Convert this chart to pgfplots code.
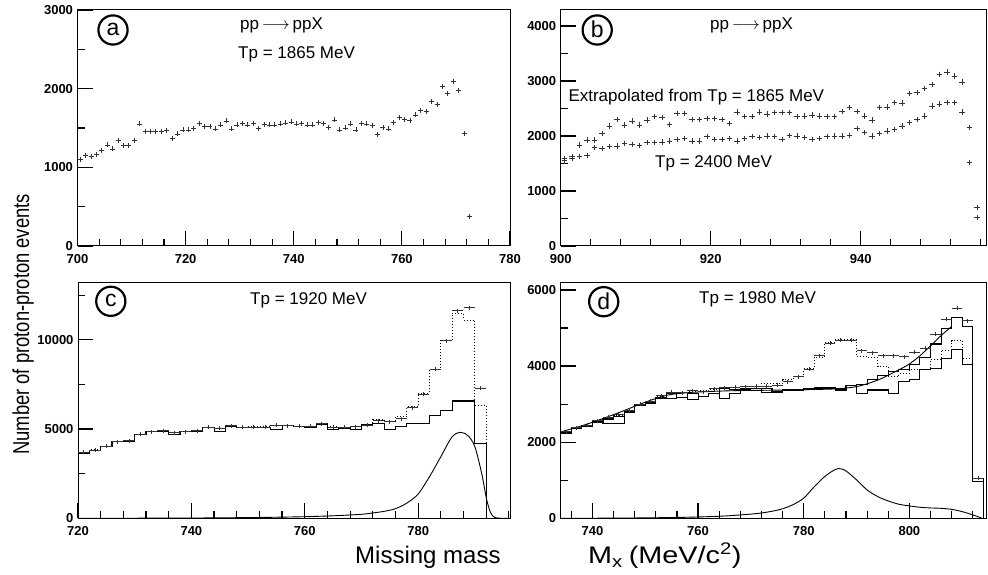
\documentclass[border=0pt]{standalone}
\usepackage{fontspec}
\setmainfont{Liberation Sans}
\usepackage{graphicx}
\usepackage{pgfplots}
\pgfplotsset{compat=1.18}
\usepackage{pgfplotstable}

% panel a: pp -> ppX, Tp = 1865 MeV
\pgfplotstableread{
x y
700.5 1105
701.5 1156
702.5 1139
703.5 1160
704.5 1220
705.5 1284
706.5 1233
707.5 1339
708.5 1275
709.5 1275
710.5 1339
711.5 1551
712.5 1454
713.5 1454
714.5 1454
715.5 1454
716.5 1466
717.5 1364
718.5 1424
719.5 1475
720.5 1475
721.5 1496
722.5 1560
723.5 1517
724.5 1517
725.5 1488
726.5 1539
727.5 1590
728.5 1488
729.5 1539
730.5 1560
731.5 1539
732.5 1560
733.5 1496
734.5 1547
735.5 1539
736.5 1539
737.5 1551
738.5 1564
739.5 1577
740.5 1551
741.5 1560
742.5 1539
743.5 1539
744.5 1568
745.5 1560
746.5 1505
747.5 1602
748.5 1475
749.5 1500
750.5 1551
751.5 1475
752.5 1560
753.5 1551
754.5 1530
755.5 1420
756.5 1505
757.5 1488
758.5 1568
759.5 1636
760.5 1611
761.5 1594
762.5 1666
763.5 1721
764.5 1709
765.5 1836
766.5 1802
767.5 2027
768.5 1934
769.5 2087
770.5 1976
771.5 1432
772.5 378
}\dataA

% panel b: extrapolated from 1865 MeV (upper) and Tp = 2400 MeV (lower)
\pgfplotstableread{
x up low
900.5 1588 1550
901.5 1624 1600
902.5 1836 1630
903.5 1927 1645
904.5 1927 1788
905.5 2048 1770
906.5 2182 1806
907.5 2303 1818
908.5 2194 1866
909.5 2273 1848
910.5 2200 1830
911.5 2285 1879
912.5 2351 1879
913.5 2333 1891
914.5 2212 1909
915.5 2406 1939
916.5 2406 1957
917.5 2303 1909
918.5 2303 1909
919.5 2315 1988
920.5 2315 1939
921.5 2303 1939
922.5 2224 1957
923.5 2436 1909
924.5 2351 1957
925.5 2351 1988
926.5 2436 1970
927.5 2394 2000
928.5 2424 1988
929.5 2424 1939
930.5 2424 2012
931.5 2351 2000
932.5 2363 1970
933.5 2376 1939
934.5 2363 1957
935.5 2351 1988
936.5 2351 2000
937.5 2442 2000
938.5 2515 2012
939.5 2442 2133
940.5 2363 2060
941.5 2285 2000
942.5 2515 2048
943.5 2527 2091
944.5 2606 2121
945.5 2594 2182
946.5 2775 2242
947.5 2788 2303
948.5 2860 2363
949.5 2933 2545
950.5 3121 2576
951.5 3163 2606
952.5 3091 2606
953.5 2982 2436
954.5 2151 1515
955.5 697 515
}\dataB

% panel c: Tp = 1920 MeV, data points (bin centres)
\pgfplotstableread{
x y
721 3700
723 3830
725 4050
727 4300
729 4350
731 4720
733 4850
735 4900
737 4800
739 4860
741 4900
743 5100
745 5050
747 5180
749 5100
751 5120
753 5120
755 5220
757 5180
759 5160
761 5170
763 5300
765 5120
767 5100
769 5130
771 5200
773 5470
775 5410
777 5580
779 6195
781 6942
783 8360
785 9946
787 11625
789 11793
791 7277
}\dataC

% panel c histograms (left bin edges); tot = dotted, bg = solid
\pgfplotstableread{
x tot bg
720 3700 3640
722 3830 3800
724 4050 4000
726 4300 4290
728 4350 4330
730 4720 4700
732 4850 4840
734 4900 4880
736 4800 4700
738 4860 4850
740 4900 4880
742 5100 5080
744 5050 4850
746 5180 5150
748 5100 5080
750 5120 5100
752 5120 5100
754 5220 4980
756 5180 5180
758 5160 5150
760 5170 5100
762 5300 5250
764 5120 5000
766 5100 5040
768 5130 5000
770 5200 5260
772 5540 5320
774 5450 4950
776 5690 5130
778 6250 5320
780 7000 5320
782 8360 5750
784 9980 6060
786 11480 6570
788 11100 6570
790 6340 4200
792 6340 4200
792 0 0
}\histC

\pgfplotstableread{
x y
720 0
730 5
740 15
750 40
755 60
760 90
765 140
770 224
772 300
774 390
776 540
778 850
780 1362
782 2332
784 3452
786 4572
787.5 4814
788.8 4628
790 4012
791.2 2519
792.1 1026
792.8 300
793.5 50
794.5 5
796 0
}\sigC

% panel d: Tp = 1980 MeV
\pgfplotstableread{
x y
735 2280
737 2380
739 2440
741 2560
743 2650
745 2720
747 2840
749 3000
751 3080
753 3220
755 3320
757 3300
759 3350
761 3330
763 3400
765 3430
767 3440
769 3460
771 3470
773 3470
775 3500
777 3590
779 3722
781 3923
783 4273
785 4598
787 4686
789 4686
791 4400
793 4353
795 4273
797 4273
799 4247
801 4361
803 4466
805 4834
807 5228
809 5517
811 5193
813 1051
}\dataD

\pgfplotstableread{
x tot up low
734 2270 2260 2240
736 2380 2365 2360
738 2440 2426 2420
740 2560 2540 2530
742 2640 2610 2490
744 2700 2680 2480
746 2830 2810 2780
748 3000 2980 2960
750 3070 3050 3030
752 3200 3170 3150
754 3300 3290 3150
756 3300 3180 3170
758 3320 3290 3130
760 3350 3200 3190
762 3380 3290 3280
764 3420 3400 3150
766 3430 3380 3290
768 3450 3400 3380
770 3460 3420 3400
772 3548 3416 3300
774 3548 3330 3300
776 3635 3390 3370
778 3723 3390 3370
780 3924 3416 3400
782 4231 3440 3420
784 4617 3440 3420
786 4687 3400 3370
788 4687 3500 3500
790 4249 3504 3285
792 4231 3635 3370
794 3990 3740 3370
796 3720 3854 3285
798 3800 3900 3592
800 3900 4050 3653
802 3900 4230 3898
804 4160 4580 3942
806 4420 4990 4205
808 4670 5270 4424
810 4200 5030 4030
812 1050 1050 964
814 1050 1050 964
814 0 0 0
}\histD

\pgfplotstableread{
x y
734 2270
738 2430
742 2620
746 2830
750 3050
754 3230
758 3300
762 3330
766 3350
770 3360
774 3365
778 3375
782 3385
786 3400
790 3460
794 3630
798 3900
800 4055
802 4270
804 4530
806 4800
808 5040
}\bgD

\pgfplotstableread{
x y
734 0
745 5
755 20
760 35
765 60
770 110
772 140
774 185
776 250
778 360
780 530
782 830
784 1100
786 1285
787 1300
788 1245
790 1010
792 745
794 570
796 455
798 370
800 325
802 290
804 272
806 262
808 235
810 175
812 90
813.8 0
}\sigD

\pgfplotsset{
  panel/.style={
    scale only axis, clip=false, anchor=south west,
    scaled ticks=false,
    axis line style={line width=1pt, black},
    tick pos=left,
    tick align=inside,
    tickwidth=15pt, subtickwidth=7pt,
    tick style={draw=black, line width=1.2pt},
    tick label style={font=\fontsize{13}{13}\selectfont\bfseries},
    xticklabel style={yshift=-5pt},
    yticklabel style={xshift=-1pt},
  },
  cross/.style={only marks, mark=+, black!80, mark options={line width=0.8pt}},
  hist/.style={const plot, black, line width=1.1pt, mark=none},
  dothist/.style={const plot, black, line width=1pt, dash pattern=on 1pt off 2pt, mark=none},
  curve/.style={smooth, tension=0.5, black, line width=0.9pt, mark=none},
}

\begin{document}
\begin{tikzpicture}
\useasboundingbox (0pt,0pt) rectangle (988pt,575pt);

% (a)
\begin{axis}[panel, at={(77.5pt,329pt)}, width=432.5pt, height=236pt,
  xmin=700, xmax=780, ymin=0, ymax=3000,
  xtick={700,720,740,760,780}, xticklabels={700,720,740,760,780},
  minor xtick={704,708,...,776},
  ytick={0,1000,2000,3000}, yticklabels={0,1000,2000,3000},
  minor ytick={500,1500,2500}]
\addplot[cross, mark size=2.5pt] table[x=x, y=y] {\dataA};
\end{axis}

% (b)
\begin{axis}[panel, at={(560.7pt,329pt)}, width=426pt, height=236pt,
  xmin=900, xmax=956.8, ymin=0, ymax=4290,
  xtick={900,920,940}, xticklabels={900,920,940},
  minor xtick={904,908,...,956},
  ytick={0,1000,2000,3000,4000}, yticklabels={0,1000,2000,3000,4000},
  minor ytick={500,1500,2500,3500}]
\addplot[cross, mark size=2.8pt] table[x=x, y=up] {\dataB};
\addplot[cross, mark size=2.8pt] table[x=x, y=low] {\dataB};
\end{axis}

% (c)
\begin{axis}[panel, at={(78pt,56.7pt)}, width=432pt, height=235.6pt,
  xmin=720, xmax=796.2, ymin=0, ymax=13200,
  xtick={720,740,760,780}, xticklabels={720,740,760,780},
  minor xtick={724,728,...,796},
  ytick={0,5000,10000}, yticklabels={0,5000,10000},
  minor ytick={2500,7500,12500}]
\addplot[hist] table[x=x, y=bg] {\histC};
\addplot[dothist] table[x=x, y=tot] {\histC};
\addplot[curve] table[x=x, y=y] {\sigC};
\addplot[cross, mark size=2pt, mark options={xscale=2.8, line width=0.8pt}] table[x=x, y=y] {\dataC};
\end{axis}

% (d)
\begin{axis}[panel, at={(560.7pt,56.7pt)}, width=425.8pt, height=235.6pt,
  xmin=734, xmax=814.6, ymin=0, ymax=6190,
  xtick={740,760,780,800}, xticklabels={740,760,780,800},
  minor xtick={736,740,...,812},
  ytick={0,2000,4000,6000}, yticklabels={0,2000,4000,6000},
  minor ytick={1000,3000,5000}]
\addplot[hist] table[x=x, y=low] {\histD};
\addplot[hist] table[x=x, y=up] {\histD};
\addplot[dothist] table[x=x, y=tot] {\histD};
\addplot[curve] table[x=x, y=y] {\bgD};
\addplot[curve] table[x=x, y=y] {\sigD};
\addplot[cross, mark size=2pt, mark options={xscale=2.65, line width=0.8pt}] table[x=x, y=y] {\dataD};
\end{axis}

% panel letters
\foreach \cx/\cy/\l in {113/545/a, 597.2/545/b, 110.8/273.7/c, 603.7/273.3/d}{
  \draw[line width=2.2pt] (\cx pt,\cy pt) circle (14.6pt);
  \node[font=\fontsize{23}{23}\selectfont, inner sep=0pt] at (\cx pt,\cy pt+0.5pt) {\l};
}

% annotations
\begin{scope}[every node/.style={anchor=base west, inner sep=0pt, font=\fontsize{17}{17}\selectfont}]
\node at (240pt,545.5pt) {pp\,$\longrightarrow$\,ppX};
\node at (238pt,516.7pt) {Tp = 1865 MeV};
\node at (710pt,545.5pt) {pp\,$\longrightarrow$\,ppX};
\node at (568.3pt,473.3pt) {Extrapolated from Tp = 1865 MeV};
\node at (655pt,407.7pt) {Tp = 2400 MeV};
\node at (250pt,270pt) {Tp = 1920 MeV};
\node at (699pt,271.7pt) {Tp = 1980 MeV};
\end{scope}

% axis titles
\node[rotate=90, anchor=base west, inner sep=0pt, font=\fontsize{23}{23}\selectfont] at (29pt,120pt) {\scalebox{0.8}[1]{Number of proton-proton events}};
\node[anchor=base west, inner sep=0pt, font=\fontsize{24}{24}\selectfont] at (355pt,11.7pt) {Missing mass};
\node[anchor=base west, inner sep=0pt, font=\fontsize{24}{24}\selectfont] at (588pt,11.7pt) {\scalebox{1.2}[1]{M\textsubscript{x}\hspace{5pt}(MeV/c\textsuperscript{2})}};
\end{tikzpicture}
\end{document}
